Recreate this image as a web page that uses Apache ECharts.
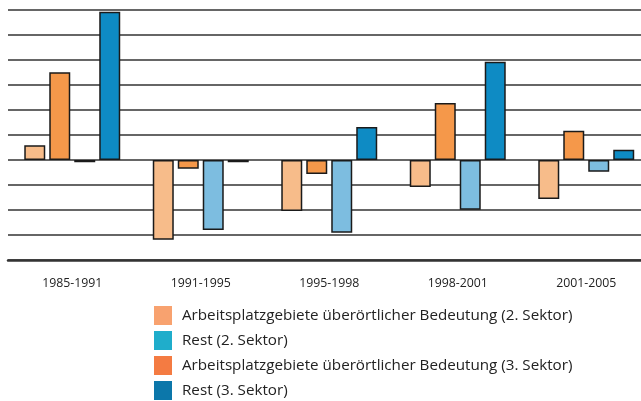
<!DOCTYPE html>
<html><head><meta charset="utf-8">
<script src="https://cdn.jsdelivr.net/npm/echarts@6/dist/echarts.min.js"></script>
<style>html,body{margin:0;padding:0;background:#fff}#c{width:641px;height:401px}</style>
</head><body><div id="c"></div>
<script>
const categories = ['1985-1991','1991-1995','1995-1998','1998-2001','2001-2005'];
const ag2 = [0.59, -3.19, -2.04, -1.08, -1.56];
const ag3 = [3.51, -0.35, -0.56, 2.28, 1.17];
const rest2 = [-0.09, -2.8, -2.91, -1.99, -0.47];
const rest3 = [5.93, -0.09, 1.32, 3.93, 0.41];
const names = [
  'Arbeitsplatzgebiete überörtlicher Bedeutung (2. Sektor)',
  'Rest (2. Sektor)',
  'Arbeitsplatzgebiete überörtlicher Bedeutung (3. Sektor)',
  'Rest (3. Sektor)'
];
const font = 'Open Sans';
const chart = echarts.init(document.getElementById('c'), null, {renderer:'canvas'});
function bar(name, data, color){
  return {type:'bar', name, data, barWidth:21, barGap:'19%',
    itemStyle:{color, borderColor:'#1a1a1a', borderWidth:1.5}};
}
chart.setOption({
  animation:false,
  grid:{left:8, top:10, bottom:141, width:642.5, outerBoundsMode:'none'},
  xAxis:{type:'category', data:categories,
    axisLine:{onZero:false, lineStyle:{color:'#333', width:2.5}},
    axisTick:{show:false},
    axisLabel:{margin:17, fontSize:12.3, color:'#222', fontFamily:font}},
  yAxis:{type:'value', min:-4, max:6, interval:1,
    axisLine:{show:false}, axisTick:{show:false}, axisLabel:{show:false},
    splitLine:{lineStyle:{color:'#333', width:1.5}}},
  legend:{orient:'vertical', left:154, top:306, height:120, padding:0,
    icon:'rect', itemWidth:18, itemHeight:19, itemGap:6,
    itemStyle:{borderWidth:0},
    textStyle:{fontSize:15.2, color:'#222', fontFamily:font, padding:[0,0,0,5]},
    data:[
      {name:names[0], itemStyle:{color:'#f8a26f'}},
      {name:names[1], itemStyle:{color:'#1fadcb'}},
      {name:names[2], itemStyle:{color:'#f47b42'}},
      {name:names[3], itemStyle:{color:'#0c77aa'}}
    ]},
  series:[
    bar(names[0], ag2, '#f7bc8a'),
    bar(names[2], ag3, '#f5984a'),
    bar(names[1], rest2, '#7dbde0'),
    bar(names[3], rest3, '#0e8bc4')
  ]
});
</script></body></html>
